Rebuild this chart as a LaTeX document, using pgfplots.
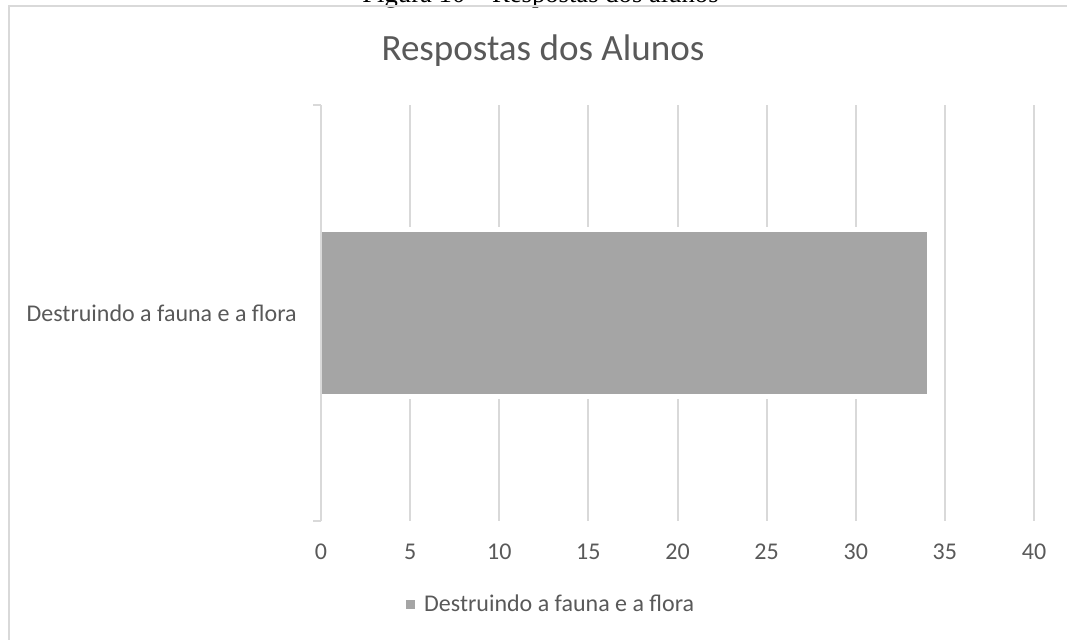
\documentclass[border=0pt]{standalone}
\usepackage{fontspec}
\setmainfont{Carlito}
\newfontfamily\capfont{Liberation Serif}
\usepackage{pgfplots}
\pgfplotsset{compat=1.18}
\definecolor{gridgray}{HTML}{D9D9D9}
\definecolor{txtgray}{HTML}{595959}
\definecolor{barfill}{HTML}{A5A5A5}

\begin{document}
\begin{tikzpicture}
\useasboundingbox (0,0) rectangle (800.25pt,479.25pt);
% caption above the frame, cut by the page edge as in the source
\node[anchor=base, inner sep=0pt, font=\capfont\fontsize{20}{24}\selectfont] at (405.4pt,477pt) {Figura 10 – Respostas dos alunos};
% chart frame
\draw[gridgray, line width=1.1pt] (6.75pt,-5pt) -- (6.75pt,474.75pt) -- (810pt,474.75pt);
% title
\node[anchor=base, inner sep=0pt, text=txtgray, font=\fontsize{27.8}{32}\selectfont] at (407.25pt,433.5pt) {Respostas dos Alunos};

\begin{axis}[
  name=ax,
  at={(240.75pt,88.5pt)}, anchor=south west,
  width=534.75pt, height=312pt, scale only axis,
  xbar, bar width=121.5pt,
  xmin=0, xmax=40, ymin=-1, ymax=1,
  xtick={0,5,...,40},
  ytick={0}, yticklabels={Destruindo a fauna e a flora},
  axis line style={draw=none},
  major tick length=0pt,
  xmajorgrids, grid style={gridgray, line width=1.5pt},
  clip=false,
  tick label style={text=txtgray, font=\fontsize{18}{22}\selectfont},
  /pgf/number format/assume math mode=true,
  xticklabel style={anchor=base, yshift=-29.25pt},
  yticklabel style={anchor=east, inner sep=0pt, xshift=-18pt},
  legend style={at={(0.318,-0.2)}, anchor=center, draw=none, fill=none,
    inner sep=0pt, text=txtgray, font=\fontsize{18}{22}\selectfont,
    nodes={inner sep=0pt},
    /tikz/every odd column/.append style={column sep=3pt}},
  legend image code/.code={\fill[barfill] (0pt,-3.4pt) rectangle (6.75pt,3.4pt);},
]
\addplot[fill=barfill, draw=none, preaction={draw=white, line width=7.5pt}]
  coordinates {(34,0)};
\addlegendentry{Destruindo a fauna e a flora}
\end{axis}

% value axis line with the category ticks
\draw[gridgray, line width=1.5pt] (ax.south west) -- (ax.north west);
\draw[gridgray, line width=1.5pt] (ax.north west) -- ++(-6pt,0pt);
\draw[gridgray, line width=1.5pt] (ax.south west) -- ++(-6pt,0pt);
\end{tikzpicture}
\end{document}
